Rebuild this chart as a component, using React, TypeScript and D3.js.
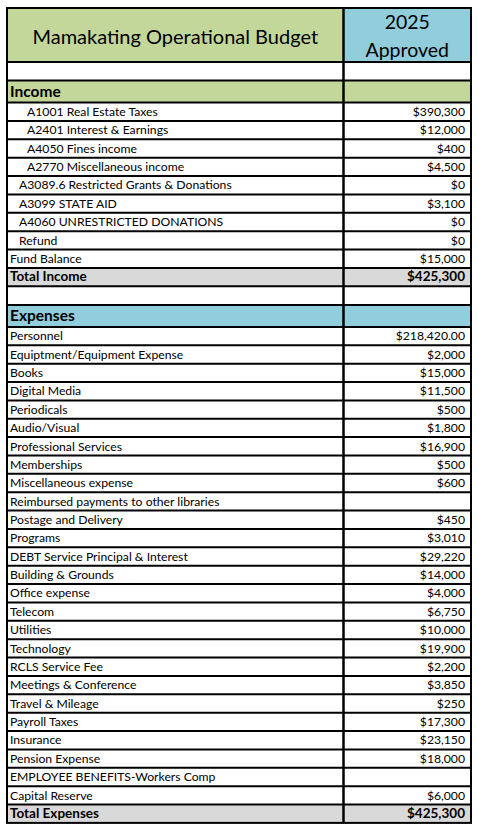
import React from "react";
import * as d3 from "d3";

const title = "Mamakating Operational Budget";
const columnHeader = ["2025", "Approved"];

const incomeLabels = [
  "A1001 Real Estate Taxes",
  "A2401 Interest & Earnings",
  "A4050 Fines income",
  "A2770 Miscellaneous income",
  "A3089.6 Restricted Grants & Donations",
  "A3099 STATE AID",
  "A4060 UNRESTRICTED DONATIONS",
  "Refund",
  "Fund Balance",
];
const incomeValues = ["$390,300", "$12,000", "$400", "$4,500", "$0", "$3,100", "$0", "$0", "$15,000"];
const incomeIndent = [2, 2, 2, 2, 1, 1, 1, 1, 0];
const totalIncome = "$425,300";

const expenseLabels = [
  "Personnel",
  "Equiptment/Equipment Expense",
  "Books",
  "Digital Media",
  "Periodicals",
  "Audio/Visual",
  "Professional Services",
  "Memberships",
  "Miscellaneous expense",
  "Reimbursed payments to other libraries",
  "Postage and Delivery",
  "Programs",
  "DEBT Service Principal & Interest",
  "Building & Grounds",
  "Office expense",
  "Telecom",
  "Utilities",
  "Technology",
  "RCLS Service Fee",
  "Meetings & Conference",
  "Travel & Mileage",
  "Payroll Taxes",
  "Insurance",
  "Pension Expense",
  "EMPLOYEE BENEFITS-Workers Comp",
  "Capital Reserve",
];
const expenseValues = [
  "$218,420.00", "$2,000", "$15,000", "$11,500", "$500", "$1,800", "$16,900", "$500", "$600", "",
  "$450", "$3,010", "$29,220", "$14,000", "$4,000", "$6,750", "$10,000", "$19,900", "$2,200",
  "$3,850", "$250", "$17,300", "$23,150", "$18,000", "", "$6,000",
];
const totalExpenses = "$425,300";

type Row = { kind: string; label: string; value: string; indent: number };

const rows: Row[] = [
  { kind: "header", label: title, value: "", indent: 0 },
  { kind: "blank", label: "", value: "", indent: 0 },
  { kind: "incomeHead", label: "Income", value: "", indent: 0 },
  ...incomeLabels.map((l, i) => ({ kind: "item", label: l, value: incomeValues[i], indent: incomeIndent[i] })),
  { kind: "total", label: "Total Income", value: totalIncome, indent: 0 },
  { kind: "blank", label: "", value: "", indent: 0 },
  { kind: "expenseHead", label: "Expenses", value: "", indent: 0 },
  ...expenseLabels.map((l, i) => ({ kind: "item", label: l, value: expenseValues[i], indent: 0 })),
  { kind: "total", label: "Total Expenses", value: totalExpenses, indent: 0 },
];

const heightOf = (k: string) =>
  k === "header" ? 54 : k === "incomeHead" || k === "expenseHead" ? 22 : k === "blank" ? 18.6 : 18.37;

const W = 478;
const H = 831;
const top = 8;
const left = 7;
const right = 471;
const divider = 343.5;

const cum = d3.cumsum(rows.map((r) => heightOf(r.kind)));
const ys = rows.map((r, i) => top + (i === 0 ? 0 : cum[i - 1]));
const bottom = top + cum[cum.length - 1];

const xIndent = d3.scaleOrdinal<number, number>().domain([0, 1, 2]).range([10, 19, 27]);

const fillOf = (k: string) =>
  k === "header" || k === "incomeHead" ? "#c4d79b" : k === "expenseHead" ? "#92cddc" : k === "total" ? "#d9d9d9" : "#ffffff";

const font = "Lato, 'Open Sans', sans-serif";

export default function App() {
  return (
    <svg width={W} height={H} style={{ position: "absolute", left: 0, top: 0, background: "#fff" }}>
      {rows.map((r, i) => {
        const y = ys[i];
        const h = heightOf(r.kind);
        const leftFill = fillOf(r.kind);
        const rightFill = r.kind === "header" ? "#92cddc" : fillOf(r.kind);
        return (
          <g key={i}>
            <rect x={left} y={y} width={divider - left} height={h} fill={leftFill} />
            <rect x={divider} y={y} width={right - divider} height={h} fill={rightFill} />
          </g>
        );
      })}
      {rows.map((r, i) => {
        const y = ys[i];
        const h = heightOf(r.kind);
        if (r.kind === "header") {
          return (
            <g key={"t" + i} fontFamily={font} fill="#000">
              <text x={(left + divider) / 2} y={y + 36} fontSize={20} textAnchor="middle">
                {r.label}
              </text>
              <text x={(divider + right) / 2} y={y + 21} fontSize={19.5} textAnchor="middle">
                {columnHeader[0]}
              </text>
              <text x={(divider + right) / 2} y={y + 48.5} fontSize={19.5} textAnchor="middle">
                {columnHeader[1]}
              </text>
            </g>
          );
        }
        if (r.kind === "incomeHead" || r.kind === "expenseHead") {
          return (
            <text key={"t" + i} x={10} y={y + 16} fontFamily={font} fontSize={15.5} fontWeight="bold">
              {r.label}
            </text>
          );
        }
        const bold = r.kind === "total";
        return (
          <g key={"t" + i} fontFamily={font} fontSize={bold ? 13.5 : 12.2} fontWeight={bold ? "bold" : "normal"}>
            <text x={xIndent(r.indent)} y={y + h * 0.73}>
              {r.label}
            </text>
            <text x={465} y={y + h * 0.73} textAnchor="end">
              {r.value}
            </text>
          </g>
        );
      })}
      {ys.slice(1).map((y, i) => (
        <line key={"h" + i} x1={left} x2={right} y1={y} y2={y} stroke="#000" strokeWidth={2} />
      ))}
      <line x1={divider} x2={divider} y1={top} y2={bottom} stroke="#000" strokeWidth={2.5} />
      <rect x={left} y={top} width={right - left} height={bottom - top} fill="none" stroke="#000" strokeWidth={2} />
    </svg>
  );
}
